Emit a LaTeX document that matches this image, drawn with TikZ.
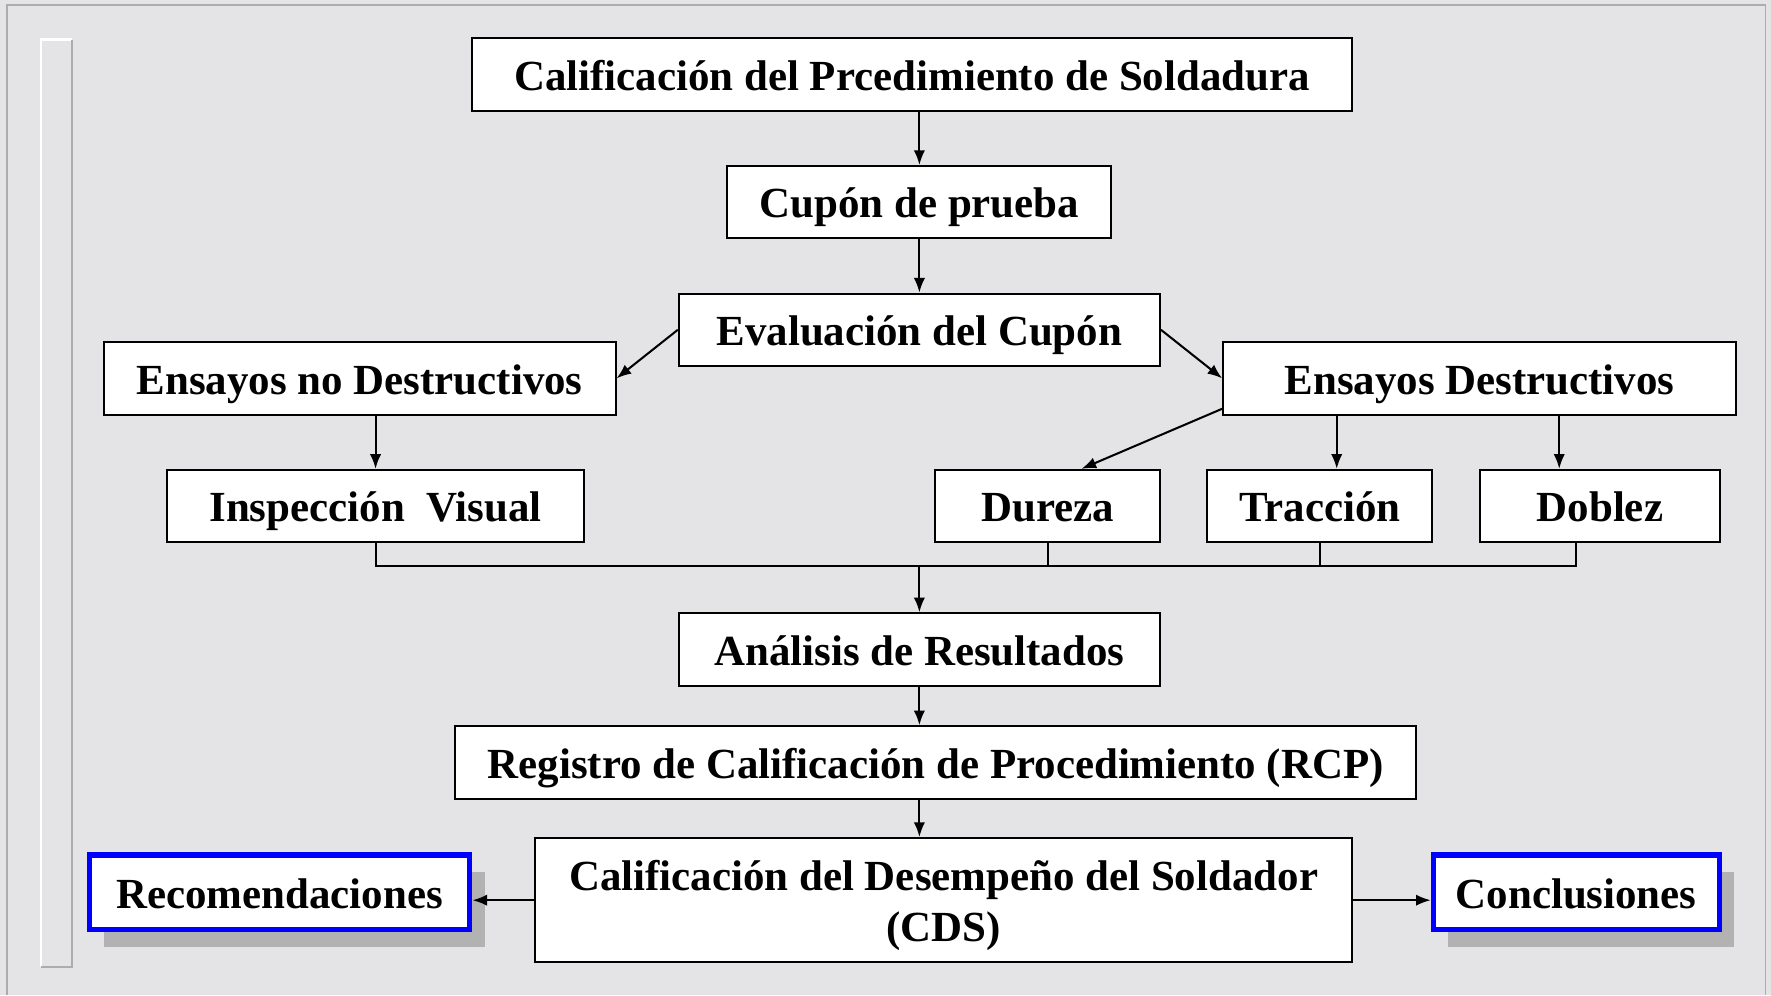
\documentclass[tikz,border=0pt]{standalone}
\usepackage{fontspec}
\setmainfont{Liberation Serif}
\usepackage{tikz}
\usetikzlibrary{shadows,arrows.meta}
\definecolor{MarbleGray}{RGB}{228,228,231}
\definecolor{FrameGray}{RGB}{172,172,175}
\definecolor{ShadowGray}{RGB}{178,178,178}
\definecolor{BoxBlue}{RGB}{0,0,255}

\begin{document}
\begin{tikzpicture}[x=1pt,y=-1pt,
    box/.style={draw=black,fill=white,line width=1.8pt,inner sep=0pt,
      font=\fontsize{38}{45}\selectfont\bfseries,align=center,
      text height=36pt,text depth=8pt},
    endbox/.style={box,draw=BoxBlue,line width=4.5pt,
      drop shadow={shadow xshift=13pt,shadow yshift=-15pt,fill=ShadowGray,opacity=1}},
    arr/.style={-{Latex[length=13pt,width=10pt]},line width=1.8pt},
    link/.style={line width=1.8pt}]
  \useasboundingbox (0,0) rectangle (1568,881);
  \fill[MarbleGray] (0,0) rectangle (1568,881);
  % slide frame
  \draw[FrameGray,line width=1.5pt] (6,881) -- (6,4.5) -- (1563,4.5) -- (1563,881);
  \draw[white,line width=2pt] (64,35) -- (36,35) -- (36,856);
  \draw[FrameGray,line width=1.5pt] (64,35) -- (64,856) -- (36,856);
  % boxes
  \node[box,minimum width=779,minimum height=64] (calif) at (807.5,66) {Calificación del Prcedimiento de Soldadura};
  \node[box,minimum width=340,minimum height=64] (cupon) at (814,179) {Cupón de prueba};
  \node[box,minimum width=426,minimum height=64] (eval) at (814,292) {Evaluación del Cupón};
  \node[box,minimum width=453,minimum height=64] (ndest) at (318.5,335) {Ensayos no Destructivos};
  \node[box,minimum width=454,minimum height=64] (dest) at (1310,335) {Ensayos Destructivos};
  \node[box,minimum width=369,minimum height=64] (insp) at (332.5,448) {Inspección\ \ Visual};
  \node[box,minimum width=199,minimum height=64] (dureza) at (927.5,448) {Dureza};
  \node[box,minimum width=199,minimum height=64] (trac) at (1168.5,448) {Tracción};
  \node[box,minimum width=213,minimum height=64] (doblez) at (1416.5,448) {Doblez};
  \node[box,minimum width=426,minimum height=64] (analisis) at (814,575) {Análisis de Resultados};
  \node[box,minimum width=851,minimum height=64] (rcp) at (828.5,675) {Registro de Calificación de Procedimiento (RCP)};
  \node[box,minimum width=723,minimum height=110,text height=81pt,text depth=8pt] (cds) at (835.5,797) {Calificación del Desempeño del Soldador\\(CDS)};
  \node[endbox,minimum width=337,minimum height=66] (recom) at (247.5,790) {Recomendaciones};
  \node[endbox,minimum width=253,minimum height=66] (concl) at (1395.5,790) {Conclusiones};
  % top part
  \draw[arr] (calif.south -| cupon.north) -- (cupon.north);
  \draw[arr] (cupon) -- (eval);
  \draw[arr] (eval.west) -- (ndest.east);
  \draw[arr] (eval.east) -- (dest.west);
  \draw[arr] (ndest.south -| insp.north) -- (insp.north);
  \draw[arr] ([yshift=6pt]dest.south west) -- ([xshift=30pt]dureza.north);
  \draw[arr] ([xshift=15pt]trac.north |- dest.south) -- ([xshift=15pt]trac.north);
  \draw[arr] ([xshift=-36pt]doblez.north |- dest.south) -- ([xshift=-36pt]doblez.north);
  % collecting line
  \coordinate (merge) at (analisis.north |- 0,501);
  \draw[link] (insp.south) -- (insp.south |- merge) -- ([xshift=-21pt]doblez.south |- merge) -- ([xshift=-21pt]doblez.south);
  \draw[link] (dureza.south) -- (dureza.south |- merge);
  \draw[link] (trac.south) -- (trac.south |- merge);
  \draw[arr] (merge) -- (analisis.north);
  % bottom part
  \draw[arr] (analisis.south) -- (analisis.south |- rcp.north);
  \draw[arr] (rcp.south -| analisis.south) -- (cds.north -| analisis.south);
  \draw[arr] (cds.west) -- (cds.west -| recom.east);
  \draw[arr] (cds.east) -- (cds.east -| concl.west);
\end{tikzpicture}
\end{document}
